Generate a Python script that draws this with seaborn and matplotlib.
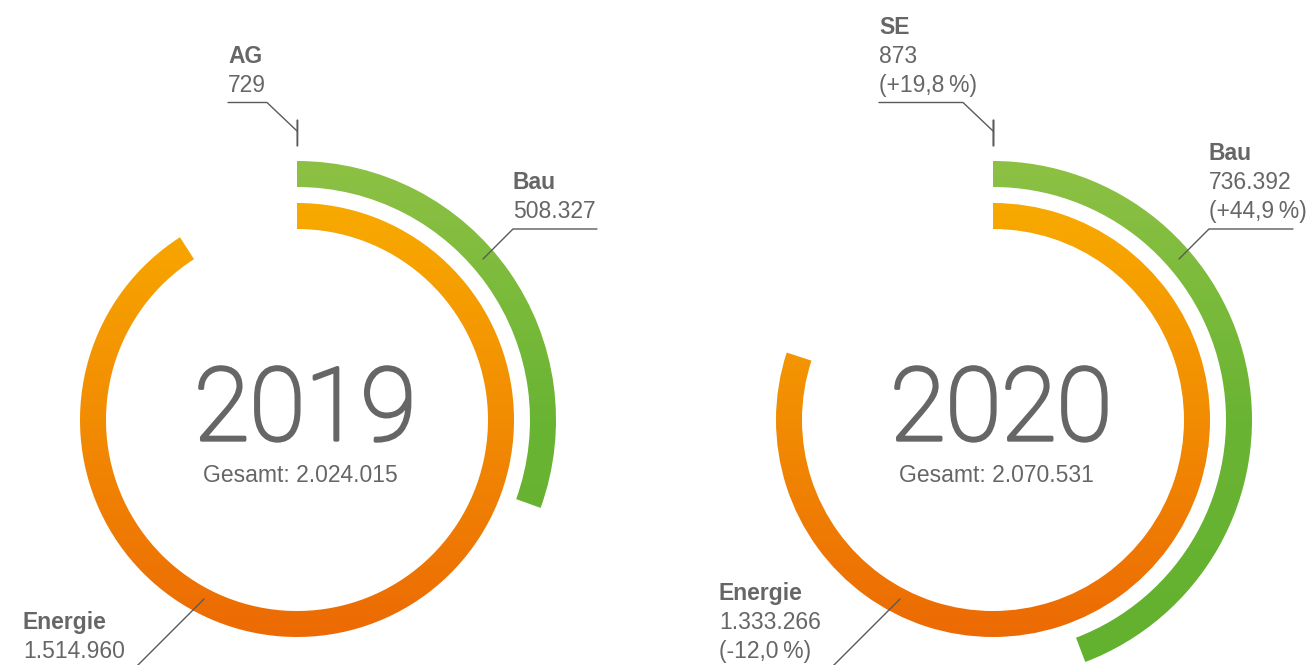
import matplotlib
matplotlib.use("Agg")
import matplotlib.pyplot as plt
import matplotlib.patheffects as pe
from matplotlib.patches import Wedge
import numpy as np
import seaborn as sns

# data
years = ["2019", "2020"]
totals = [2024015, 2070531]
small_names = ["AG", "SE"]
small_vals = [729, 873]
bau_vals = [508327, 736392]
energie_vals = [1514960, 1333266]

# value that maps to a full circle
FULL = 1666000

sns.set_theme(style="white")
plt.rcParams['font.family'] = ['Liberation Sans', 'DejaVu Sans']

GRAY = "#666666"
LINE = "#5a5a5a"
green_cols = sns.blend_palette(["#8DC144", "#6AB433", "#62B12F"], n_colors=256)
orange_cols = sns.blend_palette(["#F8AA00", "#F28C02", "#EC6A04"], n_colors=256)


def fmt(v):
    return f"{v:,}".replace(",", ".")


def pct(new, old):
    p = (new / old - 1) * 100
    s = f"{p:+.1f}".replace(".", ",")
    return f"({s}\u2009%)"


def ring(ax, cx, cy, r_out, width, value, colors):
    ang = value / FULL * 360
    w = Wedge((cx, cy), r_out, -90, -90 + ang, width=width,
              facecolor="none", edgecolor="none")
    ax.add_patch(w)
    grad = np.array(colors)[:, None, :]
    im = ax.imshow(grad, extent=(cx - r_out, cx + r_out, cy + r_out, cy - r_out),
                   interpolation="bilinear", zorder=1)
    im.set_clip_path(w)


fig = plt.figure(figsize=(13.08, 6.65), dpi=100)
ax = fig.add_axes([0, 0, 1, 1])

centers = [297, 993]
cy = 420
small_x = [-69, -114]
fs = 16.5

for i, cx in enumerate(centers):
    # rings
    ring(ax, cx, cy, 217, 26, energie_vals[i], orange_cols)
    ring(ax, cx, cy, 259, 26, bau_vals[i], green_cols)
    ang = small_vals[i] / FULL * 360
    ax.add_patch(Wedge((cx, cy), 300, -90, -90 + ang, width=26,
                       facecolor=LINE, edgecolor=LINE, lw=0.8, zorder=2))

    # center text (light face, slightly thickened)
    ax.text(cx + 8, 440, years[i], ha="center", va="baseline", fontsize=73,
            color=GRAY, family=["Roboto", "DejaVu Sans"], fontweight="light",
            path_effects=[pe.Stroke(linewidth=2.4, foreground=GRAY), pe.Normal()])
    ax.text(cx + 3, 482, "Gesamt: " + fmt(totals[i]), ha="center", va="baseline",
            fontsize=fs, color=GRAY)

    # label lines
    small_lines = [fmt(small_vals[i])]
    bau_lines = [fmt(bau_vals[i])]
    en_lines = [fmt(energie_vals[i])]
    if i > 0:
        small_lines.append(pct(small_vals[i], small_vals[i - 1]))
        bau_lines.append(pct(bau_vals[i], bau_vals[i - 1]))
        en_lines.append(pct(energie_vals[i], energie_vals[i - 1]))

    def block(x, last_base, name, lines):
        allrows = [name] + lines
        n = len(allrows)
        for k, t in enumerate(allrows):
            y = last_base - (n - 1 - k) * 28.8
            ax.text(x, y, t, ha="left", va="baseline", fontsize=fs, color=GRAY,
                    fontweight="bold" if k == 0 else "normal")

    # small segment (AG / SE)
    sx = cx + small_x[i]
    block(sx, 92, small_names[i], small_lines)
    ax.plot([sx, cx - 30, cx], [102.5, 102.5, 131], color=LINE, lw=1, zorder=3)

    # Bau
    block(cx + 216, 218, "Bau", bau_lines)
    ax.plot([cx + 300, cx + 216, cx + 186], [229, 229, 259], color=LINE, lw=1, zorder=3)

    # Energie
    block(cx - 274, 658, "Energie", en_lines)
    ax.plot([cx - 93, cx - 177], [599, 683], color=LINE, lw=1, zorder=3)

ax.set_xlim(0, 1308)
ax.set_ylim(665, 0)
ax.set_aspect("auto")
ax.axis("off")

fig.savefig("out.png", dpi=100)
